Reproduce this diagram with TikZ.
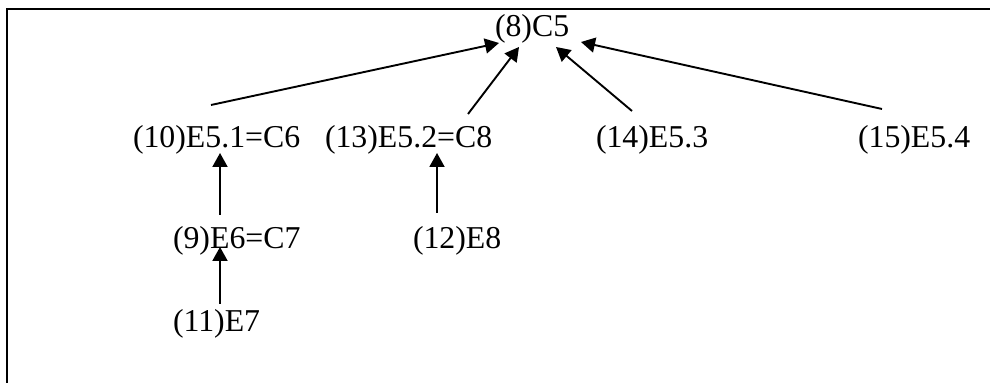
\documentclass[tikz,border=0pt]{standalone}
\usepackage{fontspec}
\setmainfont{Liberation Serif}
\usetikzlibrary{calc,arrows.meta}
\begin{document}
\begin{tikzpicture}[x=0.5pt,y=-0.5pt,
  lbl/.style={inner sep=0pt,outer sep=0pt,anchor=base west,font=\fontsize{15.9}{19}\selectfont},
  arr/.style={line width=0.95pt,-{Triangle[length=7pt,width=7.5pt]}},
  frame/.style={line width=1.25pt}]
\useasboundingbox (0,0) rectangle (990,383);
\draw[frame] (6,9) -- (990,9);
\draw[frame] (7,9) -- (7,383);
\node[lbl] (n8)  at (495,37)  {(8)C5};
\node[lbl] (n10) at (133,148) {(10)E5.1=C6};
\node[lbl] (n13) at (325,148) {(13)E5.2=C8};
\node[lbl] (n14) at (596,148) {(14)E5.3};
\node[lbl] (n15) at (858,148) {(15)E5.4};
\node[lbl] (n9)  at (173,249) {(9)E6=C7};
\node[lbl] (n12) at (413,249) {(12)E8};
\node[lbl] (n11) at (173,332) {(11)E7};
\draw[arr] ($(n10.base west)+(78,-43)$) -- ($(n8.base west)+(4,6)$);
\draw[arr] ($(n13.base west)+(143,-34)$) -- ($(n8.base west)+(24,10)$);
\draw[arr] ($(n14.base west)+(36,-37)$) -- ($(n8.base west)+(61,10)$);
\draw[arr] ($(n15.base west)+(24,-39)$) -- ($(n8.base west)+(86,5)$);
\draw[arr] ($(n9.base west)+(47,-34)$) -- ($(n10.base west)+(87,5)$);
\draw[arr] ($(n12.base west)+(24,-36)$) -- ($(n13.base west)+(112,5)$);
\draw[arr] ($(n11.base west)+(47,-28)$) -- ($(n9.base west)+(47,-2)$);
\end{tikzpicture}
\end{document}
